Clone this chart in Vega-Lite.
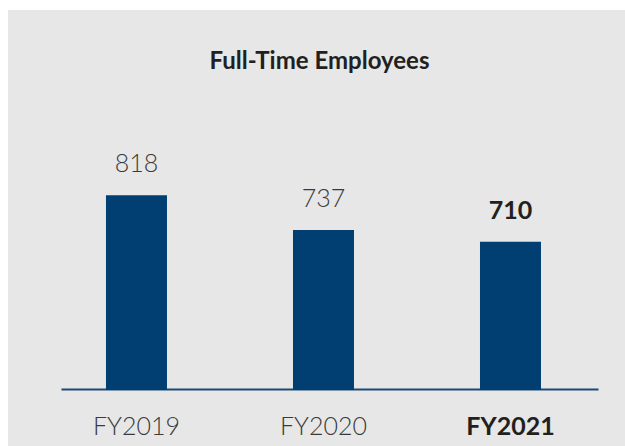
{
  "$schema": "https://vega.github.io/schema/vega-lite/v6.json",
  "width": 617,
  "height": 436,
  "autosize": {"type": "none"},
  "padding": {"left": 8, "top": 10, "right": 0, "bottom": 0},
  "background": "#ffffff",
  "config": {
    "view": {"fill": "#e6e7e6", "stroke": null},
    "font": "Lato"
  },
  "title": {
    "text": "Full-Time Employees",
    "anchor": "middle",
    "fontSize": 24,
    "fontWeight": "bold",
    "color": "#231f20",
    "font": "Lato",
    "offset": -64,
    "dx": 3
  },
  "data": {
    "values": [
      {"year": "FY2019", "employees": 818},
      {"year": "FY2020", "employees": 737},
      {"year": "FY2021", "employees": 710}
    ]
  },
  "encoding": {
    "x": {
      "field": "year",
      "type": "nominal",
      "sort": null,
      "scale": {"range": [53, 590], "paddingInner": 0.6738, "paddingOuter": 0.2727, "align": 0.441},
      "axis": {
        "title": null,
        "offset": -57,
        "domainColor": "#1d4a75",
        "domainWidth": 2,
        "ticks": false,
        "tickSize": 0,
        "labelAngle": 0,
        "labelBaseline": "alphabetic",
        "labelPadding": 45,
        "labelFontSize": 25,
        "labelFont": "Lato",
        "labelFontWeight": {"condition": {"test": "datum.value === 'FY2021'", "value": "bold"}, "value": 300},
        "labelColor": {"condition": {"test": "datum.value === 'FY2021'", "value": "#231f20"}, "value": "#3a3a3a"}
      }
    }
  },
  "layer": [
    {
      "mark": {"type": "bar", "color": "#013f72"},
      "encoding": {
        "y": {
          "field": "employees",
          "type": "quantitative",
          "scale": {"domain": [235, 1248.5], "zero": false, "nice": false},
          "axis": null
        },
        "y2": {"datum": 365}
      }
    },
    {
      "transform": [{"filter": "datum.year !== 'FY2021'"}],
      "mark": {"type": "text", "dy": -23, "baseline": "alphabetic", "fontSize": 25, "fontWeight": 300, "color": "#3a3a3a"},
      "encoding": {
        "y": {"field": "employees", "type": "quantitative"},
        "text": {"field": "employees", "type": "quantitative"}
      }
    },
    {
      "transform": [{"filter": "datum.year === 'FY2021'"}],
      "mark": {"type": "text", "dy": -23, "baseline": "alphabetic", "fontSize": 25, "fontWeight": "bold", "color": "#231f20"},
      "encoding": {
        "y": {"field": "employees", "type": "quantitative"},
        "text": {"field": "employees", "type": "quantitative"}
      }
    }
  ]
}
